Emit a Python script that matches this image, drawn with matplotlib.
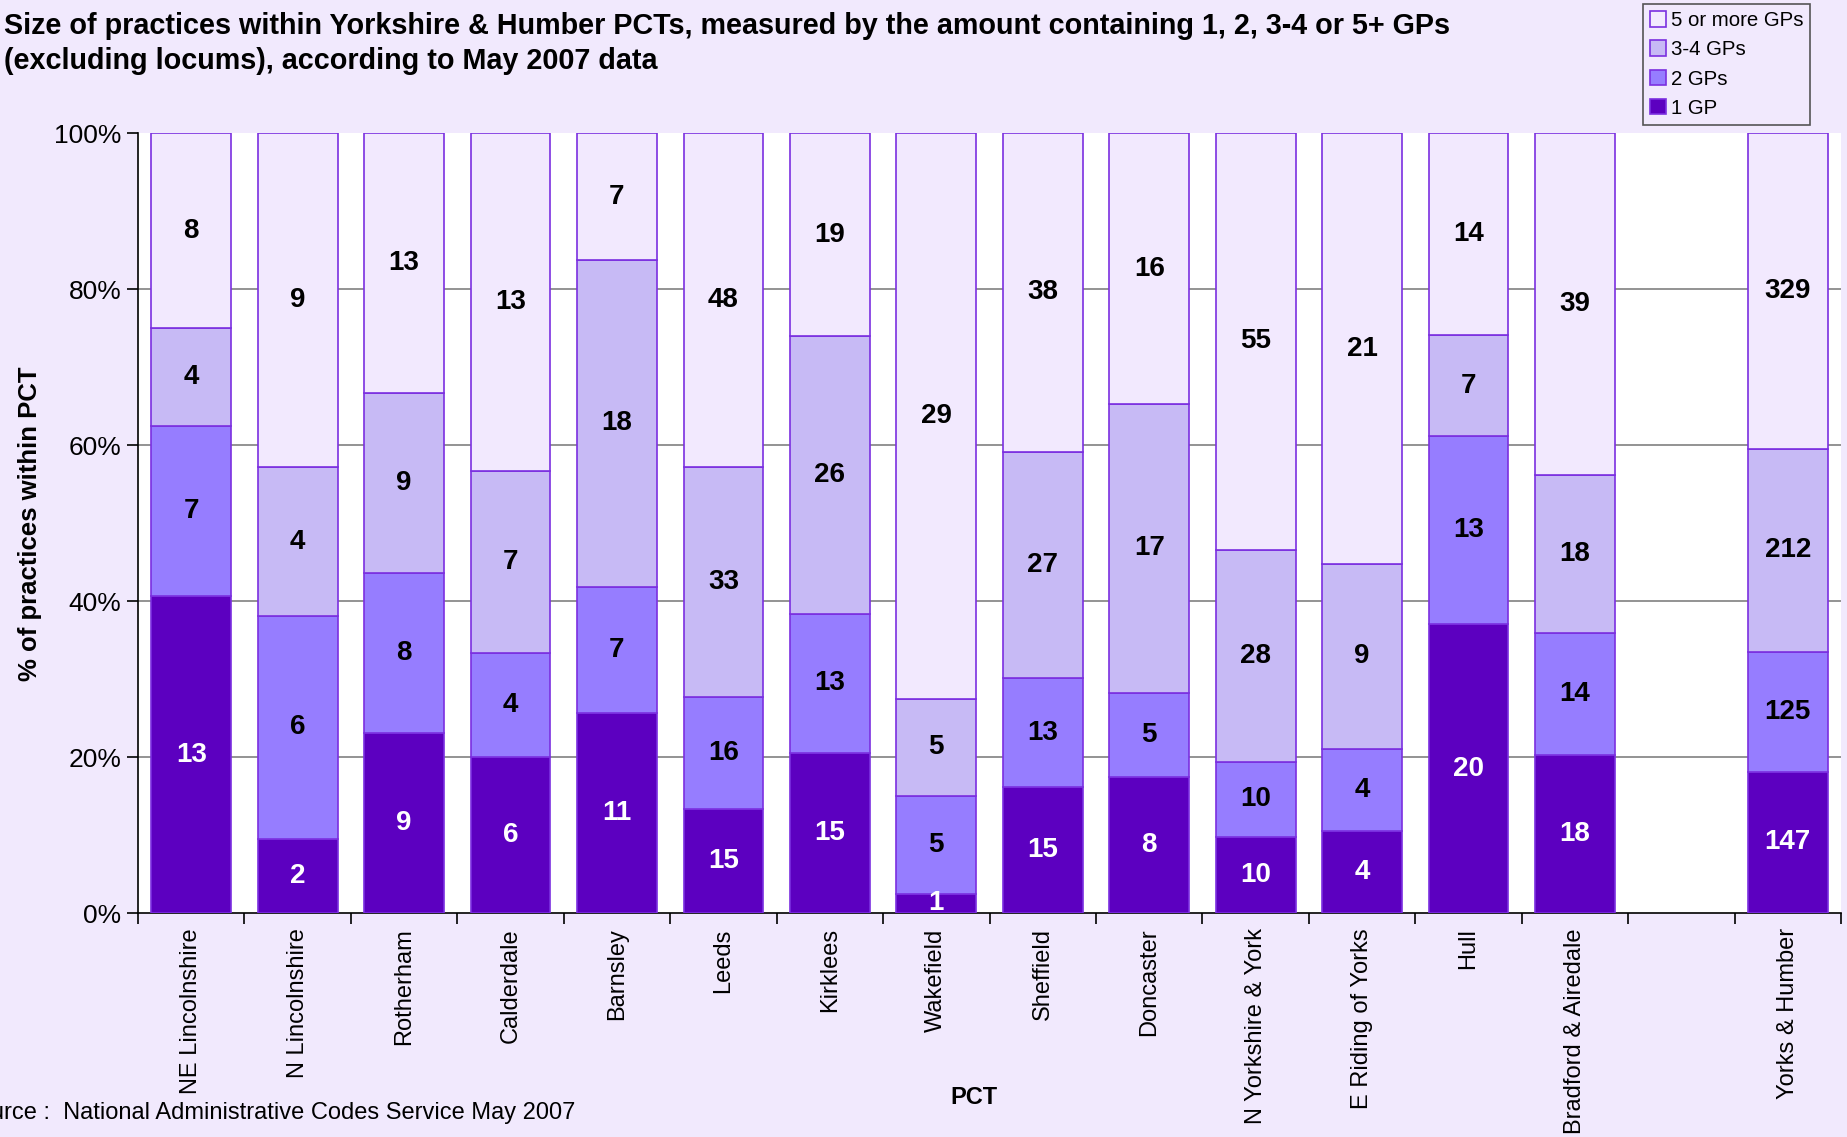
import matplotlib.pyplot as plt
import numpy as np

plt.rcParams['font.family'] = ['Liberation Sans', 'DejaVu Sans']

pcts = ["NE Lincolnshire", "N Lincolnshire", "Rotherham", "Calderdale", "Barnsley",
        "Leeds", "Kirklees", "Wakefield", "Sheffield", "Doncaster",
        "N Yorkshire & York", "E Riding of Yorks", "Hull", "Bradford & Airedale",
        "", "Yorks & Humber"]
gp1 = [13, 2, 9, 6, 11, 15, 15, 1, 15, 8, 10, 4, 20, 18, 0, 147]
gp2 = [7, 6, 8, 4, 7, 16, 13, 5, 13, 5, 10, 4, 13, 14, 0, 125]
gp34 = [4, 4, 9, 7, 18, 33, 26, 5, 27, 17, 28, 9, 7, 18, 0, 212]
gp5 = [8, 9, 13, 13, 7, 48, 19, 29, 38, 16, 55, 21, 14, 39, 0, 329]

series = [("1 GP", gp1, "#5C00C0", "white"),
          ("2 GPs", gp2, "#967DFF", "black"),
          ("3-4 GPs", gp34, "#C7BAF5", "black"),
          ("5 or more GPs", gp5, "#F2E9FE", "black")]

bg = "#F1E9FD"
edge = "#7B2FE0"

counts = np.array([gp1, gp2, gp34, gp5], dtype=float)
totals = counts.sum(axis=0)
has = totals > 0  # the empty slot before the regional total
totals[~has] = 1
shares = counts / totals * 100

fig = plt.figure(figsize=(18.47, 11.37), dpi=100, facecolor=bg)
ax = fig.add_axes([0.0747, 0.197, 0.9221, 0.686])
ax.set_facecolor("white")

x = np.arange(len(pcts))
bottom = np.zeros(len(pcts))
handles = []
for i, (name, vals, col, tcol) in enumerate(series):
    h = ax.bar(x[has], shares[i][has], 0.75, bottom=bottom[has], color=col, edgecolor=edge,
               linewidth=1.2, label=name, zorder=3)
    handles.append(h)
    for j, v in enumerate(vals):
        if v > 0:
            ax.text(x[j], bottom[j] + shares[i][j] / 2, str(v), ha="center", va="center",
                    fontsize=20, fontweight="bold", color=tcol, zorder=4)
    bottom += shares[i]

ax.set_xlim(-0.5, len(pcts) - 0.5)
ax.set_ylim(0, 100)
ax.set_yticks([0, 20, 40, 60, 80, 100])
ax.set_yticklabels(["0%", "20%", "40%", "60%", "80%", "100%"], fontsize=19)
for g in [20, 40, 60, 80]:
    ax.axhline(g, color="#808080", lw=1.2, zorder=1)

ax.set_xticks(x)
ax.set_xticklabels(pcts, rotation=90, fontsize=17, va="top")
ax.set_xticks(np.arange(-0.5, len(pcts)), minor=True)
ax.tick_params(axis="x", which="major", length=0, pad=11)
ax.tick_params(axis="x", which="minor", length=8, width=1.2)
ax.tick_params(axis="y", length=8, width=1.2, pad=4)

for s in ["top", "right"]:
    ax.spines[s].set_visible(False)
ax.spines["left"].set_linewidth(1.2)
ax.spines["bottom"].set_linewidth(1.2)

fig.text(30 / 1847, 1 - 524 / 1137, "% of practices within PCT", rotation=90,
         ha="center", va="center", fontsize=18.5, fontweight="bold")
fig.text(974 / 1847, 1 - 1098 / 1137, "PCT", ha="center", va="center",
         fontsize=17, fontweight="bold")

fig.text(4 / 1847, 1 - 26 / 1137,
         "Size of practices within Yorkshire & Humber PCTs, measured by the amount containing 1, 2, 3-4 or 5+ GPs",
         ha="left", va="center", fontsize=20.7, fontweight="bold")
fig.text(4 / 1847, 1 - 61 / 1137, "(excluding locums), according to May 2007 data",
         ha="left", va="center", fontsize=20.7, fontweight="bold")

fig.text(575 / 1847, 1 - 1113 / 1137,
         "Source :  National Administrative Codes Service May 2007",
         ha="right", va="center", fontsize=17)

leg = fig.legend(handles[::-1], [s[0] for s in series][::-1],
                 loc="upper left", bbox_to_anchor=(1643 / 1847, 1 - 4 / 1137),
                 fontsize=14.7, frameon=True, fancybox=False, edgecolor="#555555",
                 facecolor=bg, framealpha=1, handlelength=0.8, handleheight=0.8,
                 handletextpad=0.2, labelspacing=0.5, borderpad=0.35, borderaxespad=0)
leg.get_frame().set_linewidth(1.2)

plt.savefig("out.png", dpi=100, facecolor=bg)
